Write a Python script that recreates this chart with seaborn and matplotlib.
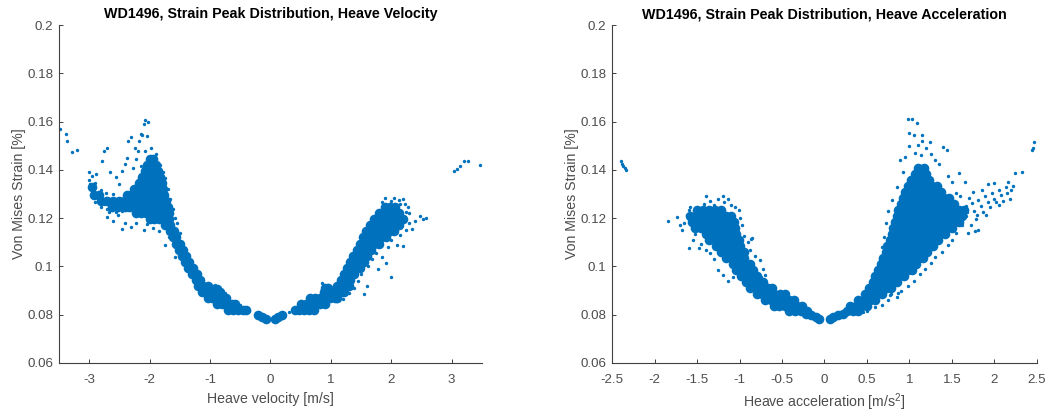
import matplotlib
matplotlib.use("Agg")
import matplotlib.pyplot as plt
import seaborn as sns
import pandas as pd

# ---------------- data ----------------
strain_ticks = [0.06, 0.08, 0.10, 0.12, 0.14, 0.16, 0.18, 0.20]
strain_tick_labels = ["0.06", "0.08", "0.1", "0.12", "0.14", "0.16", "0.18", "0.2"]
vel_ticks = [-3, -2, -1, 0, 1, 2, 3]
vel_tick_labels = ["-3", "-2", "-1", "0", "1", "2", "3"]
acc_ticks = [-2.5, -2, -1.5, -1, -0.5, 0, 0.5, 1, 1.5, 2, 2.5]
acc_tick_labels = ["-2.5", "-2", "-1.5", "-1", "-0.5", "0", "0.5", "1", "1.5", "2", "2.5"]

# Heave velocity panel: dense core, rows of (strain, [velocities])
vel_core_rows = [
    (0.1445, [-2.0, -1.94]),
    (0.142, [-2.04, -1.96, -1.9]),
    (0.1395, [-2.08, -2.0, -1.92, -1.86]),
    (0.137, [-2.12, -2.04, -1.96, -1.88, -1.82]),
    (0.1345, [-2.18, -2.1, -2.02, -1.94, -1.86, -1.8]),
    (0.133, [-2.95]),
    (0.132, [-2.26, -2.18, -2.1, -2.02, -1.94, -1.86, -1.78]),
    (0.1295, [-2.92, -2.84, -2.38, -2.3, -2.22, -2.14, -2.06, -1.98, -1.9, -1.82, -1.76]),
    (0.127, [-2.8, -2.7, -2.6, -2.5, -2.42, -2.34, -2.26, -2.18, -2.1, -2.02, -1.94, -1.86, -1.78, -1.73]),
    (0.1245, [-2.62, -2.52, -2.4, -2.32, -2.24, -2.16, -2.08, -2.0, -1.92, -1.84, -1.76, -1.7]),
    (0.122, [-2.22, -2.14, -2.06, -1.98, -1.9, -1.82, -1.74, -1.68]),
    (0.1195, [-2.0, -1.92, -1.84, -1.76, -1.68]),
    (0.117, [-1.74, -1.66]),
    (0.1145, [-1.66, -1.6]),
    (0.112, [-1.62, -1.56]),
    (0.1095, [-1.57, -1.5]),
    (0.107, [-1.52, -1.44]),
    (0.1045, [-1.47, -1.39]),
    (0.102, [-1.42, -1.34]),
    (0.0995, [-1.36, -1.28]),
    (0.097, [-1.3, -1.22]),
    (0.0945, [-1.24, -1.16]),
    (0.092, [-1.2, -1.12, -1.04]),
    (0.0905, [-0.95, -0.88]),
    (0.0895, [-1.14, -1.06, -0.98, -0.9, -0.84]),
    (0.087, [-1.04, -0.96, -0.88, -0.8, -0.74]),
    (0.0845, [-0.88, -0.8, -0.72, -0.64, -0.58]),
    (0.082, [-0.7, -0.62, -0.54, -0.46, -0.4]),
    (0.0797, [-0.2, 0.19]),
    (0.0789, [-0.14, 0.13]),
    (0.0782, [-0.08, 0.07]),
    (0.082, [0.4, 0.48, 0.56, 0.64, 0.72]),
    (0.0845, [0.5, 0.58, 0.66, 0.74, 0.82, 0.9]),
    (0.087, [0.66, 0.74, 0.82, 0.9, 0.98, 1.06, 1.1]),
    (0.0895, [0.88, 0.94, 1.02, 1.1, 1.18, 1.22]),
    (0.091, [0.9, 0.95]),
    (0.092, [1.1, 1.18, 1.26, 1.3]),
    (0.0945, [1.16, 1.24, 1.32]),
    (0.097, [1.22, 1.3, 1.38]),
    (0.0995, [1.27, 1.35, 1.43, 1.49]),
    (0.102, [1.32, 1.4, 1.48, 1.55]),
    (0.1045, [1.37, 1.45, 1.53, 1.6]),
    (0.107, [1.43, 1.51, 1.59, 1.66]),
    (0.1095, [1.48, 1.56, 1.64, 1.72, 1.8]),
    (0.112, [1.53, 1.61, 1.69, 1.77, 1.85, 1.92]),
    (0.1145, [1.58, 1.66, 1.74, 1.82, 1.9, 1.98, 2.05]),
    (0.117, [1.64, 1.72, 1.8, 1.88, 1.96, 2.04, 2.12]),
    (0.1195, [1.72, 1.8, 1.88, 1.96, 2.04, 2.12, 2.2]),
    (0.122, [1.8, 1.88, 1.96, 2.04, 2.12]),
    (0.1245, [1.9, 1.98, 2.06]),
]

# Heave velocity panel: scattered single peaks
vel_x = [-3.49, -3.39, -3.37, -3.28, -3.2,
         -3.0, -3.0, -2.98, -2.95, -2.93, -2.9, -2.88, -2.85, -2.8, -2.78, -2.75, -2.72, -2.7,
         -2.65, -2.62, -2.6, -2.55, -2.52, -2.5, -2.45,
         -2.88, -2.78, -2.75, -2.7, -2.65, -2.55, -2.5, -2.45, -2.4, -2.38, -2.35, -2.3, -2.25,
         -2.2, -2.18, -2.15, -2.1, -2.07, -2.03, -2.12, -2.05, -2.28, -2.22, -2.15, -2.08, -1.97,
         -1.9, -1.82, -1.78, -1.75, -1.7, -1.66, -1.62, -1.58, -1.55, -1.5,
         -2.7, -2.6, -2.45, -2.4, -2.3, -2.22, -2.1, -2.05, -1.95, -1.85, -1.75, -1.68, -1.58,
         -1.45, -1.3, -1.38,
         -1.18, -1.05, -0.75, -0.7, -0.5, -0.35, -0.92, -0.85,
         -2.96, -2.9, -2.84, -2.8, -2.72, -2.66, -2.58, -2.56, -2.42, -2.35, -2.62, -2.68,
         0.3, 0.85, 0.95, 1.0, 1.05, 1.1, 1.2, 1.3, 1.38, 1.45, 1.5, 1.55, 1.6, 1.62, 1.68, 1.75,
         1.78, 1.85, 1.92, 1.95, 2.0, 2.0, 2.1, 2.15, 2.2, 2.25, 2.3, 2.35, 2.4, 2.48, 2.52, 2.58,
         2.3, 2.28, 2.22, 2.2, 2.15, 2.05, 2.0, 1.98, 1.92, 1.85, 1.8, 1.75, 1.7, 1.5, 1.45, 1.4,
         1.35, 1.32, 1.25, 1.15, 1.4, 1.9, 2.12, 2.25,
         3.03, 3.09, 3.14, 3.21, 3.27, 3.46]
vel_strain = [0.1571, 0.1548, 0.152, 0.1474, 0.1483,
              0.139, 0.136, 0.134, 0.1375, 0.132, 0.1345, 0.130, 0.128, 0.1315, 0.127, 0.126, 0.1285, 0.124,
              0.127, 0.1235, 0.13, 0.125, 0.1215, 0.128, 0.123,
              0.1385, 0.1435, 0.148, 0.149, 0.139, 0.137, 0.134, 0.1395, 0.1425, 0.145, 0.152, 0.1535, 0.149,
              0.148, 0.152, 0.155, 0.159, 0.1605, 0.16, 0.1545, 0.154, 0.141, 0.1445, 0.1415, 0.148, 0.149,
              0.1465, 0.142, 0.139, 0.1365, 0.132, 0.128, 0.124, 0.12, 0.118, 0.114,
              0.1205, 0.119, 0.1155, 0.118, 0.1165, 0.118, 0.115, 0.1175, 0.116, 0.1145, 0.109, 0.112, 0.104,
              0.1015, 0.096, 0.099,
              0.0915, 0.0875, 0.089, 0.0875, 0.084, 0.0815, 0.0925, 0.0915,
              0.1305, 0.1265, 0.1295, 0.1245, 0.1305, 0.125, 0.1265, 0.1225, 0.1255, 0.1235, 0.128, 0.1225,
              0.081, 0.093, 0.0925, 0.091, 0.0875, 0.0855, 0.0865, 0.089, 0.091, 0.094, 0.097, 0.0885, 0.092, 0.1, 0.103, 0.1055,
              0.099, 0.104, 0.1015, 0.108, 0.0955, 0.111, 0.109, 0.113, 0.1085, 0.115, 0.118, 0.1155, 0.119, 0.121, 0.1195, 0.12,
              0.122, 0.1245, 0.126, 0.128, 0.126, 0.1285, 0.127, 0.1255, 0.1245, 0.1265, 0.123, 0.1205, 0.118, 0.109, 0.107, 0.104,
              0.1, 0.0975, 0.0945, 0.09, 0.096, 0.1285, 0.1275, 0.1225,
              0.1396, 0.1405, 0.1417, 0.1437, 0.1437, 0.1421]

# Heave acceleration panel: dense core, rows of (strain, [accelerations])
acc_core_rows = [
    (0.1235, [-1.5, -1.43, -1.36, -1.29, -1.22]),
    (0.121, [-1.58, -1.51, -1.44, -1.37, -1.3, -1.23, -1.16, -1.1]),
    (0.1185, [-1.56, -1.49, -1.42, -1.35, -1.28, -1.21, -1.14, -1.07]),
    (0.116, [-1.52, -1.45, -1.38, -1.31, -1.24, -1.17, -1.1, -1.05]),
    (0.1135, [-1.4, -1.33, -1.26, -1.19, -1.12, -1.04]),
    (0.111, [-1.36, -1.29, -1.22, -1.15, -1.08, -1.01]),
    (0.1085, [-1.28, -1.21, -1.14, -1.07, -0.99]),
    (0.106, [-1.22, -1.15, -1.08, -1.01, -0.95]),
    (0.1035, [-1.16, -1.09, -1.02, -0.95]),
    (0.101, [-1.08, -1.01, -0.94, -0.88]),
    (0.0985, [-1.04, -0.97, -0.9, -0.84]),
    (0.096, [-0.98, -0.91, -0.84, -0.79]),
    (0.0935, [-0.92, -0.85, -0.78, -0.72]),
    (0.091, [-0.88, -0.81, -0.74, -0.67, -0.62]),
    (0.0885, [-0.8, -0.73, -0.66, -0.59, -0.52, -0.47]),
    (0.086, [-0.7, -0.63, -0.56, -0.49, -0.42, -0.36]),
    (0.0835, [-0.6, -0.53, -0.46, -0.39, -0.32, -0.27]),
    (0.0815, [-0.42, -0.35, -0.28, -0.21]),
    (0.0802, [-0.22, 0.22]),
    (0.0797, [-0.16, 0.16]),
    (0.079, [-0.1, 0.1]),
    (0.0783, [-0.06, 0.06]),
    (0.0815, [0.26, 0.33, 0.4]),
    (0.0835, [0.3, 0.37, 0.44, 0.5]),
    (0.086, [0.4, 0.47, 0.54, 0.6]),
    (0.0885, [0.48, 0.55, 0.62, 0.68]),
    (0.091, [0.52, 0.59, 0.66, 0.73, 0.78]),
    (0.0935, [0.57, 0.64, 0.71, 0.78, 0.85]),
    (0.096, [0.6, 0.67, 0.74, 0.81, 0.88, 0.94]),
    (0.0985, [0.63, 0.7, 0.77, 0.84, 0.91, 0.98, 1.03]),
    (0.101, [0.66, 0.73, 0.8, 0.87, 0.94, 1.01, 1.08]),
    (0.1035, [0.69, 0.76, 0.83, 0.9, 0.97, 1.04, 1.11, 1.16]),
    (0.106, [0.72, 0.79, 0.86, 0.93, 1.0, 1.07, 1.14, 1.21]),
    (0.1085, [0.74, 0.81, 0.88, 0.95, 1.02, 1.09, 1.16, 1.23, 1.28]),
    (0.111, [0.77, 0.84, 0.91, 0.98, 1.05, 1.12, 1.19, 1.26, 1.33]),
    (0.1135, [0.79, 0.86, 0.93, 1.0, 1.07, 1.14, 1.21, 1.28, 1.35, 1.42]),
    (0.116, [0.81, 0.88, 0.95, 1.02, 1.09, 1.16, 1.23, 1.3, 1.37, 1.44, 1.5]),
    (0.1185, [0.83, 0.9, 0.97, 1.04, 1.11, 1.18, 1.25, 1.32, 1.39, 1.46, 1.53, 1.58]),
    (0.121, [0.85, 0.92, 0.99, 1.06, 1.13, 1.2, 1.27, 1.34, 1.41, 1.48, 1.55, 1.62]),
    (0.1235, [0.87, 0.94, 1.01, 1.08, 1.15, 1.22, 1.29, 1.36, 1.43, 1.5, 1.57, 1.64]),
    (0.126, [0.9, 0.97, 1.04, 1.11, 1.18, 1.25, 1.32, 1.39, 1.46, 1.52]),
    (0.1285, [0.92, 0.99, 1.06, 1.13, 1.2, 1.27, 1.34, 1.41, 1.47]),
    (0.131, [0.95, 1.02, 1.09, 1.16, 1.23, 1.3, 1.37]),
    (0.1335, [0.98, 1.05, 1.12, 1.19, 1.26, 1.32]),
    (0.136, [1.02, 1.09, 1.16, 1.23]),
    (0.1385, [1.06, 1.13, 1.2]),
    (0.141, [1.1, 1.17]),
]

# Heave acceleration panel: scattered single peaks
acc_x = [-2.40, -2.38, -2.35, -2.33, -2.37,
         -1.84, -1.74, -1.7, -1.68, -1.65, -1.62, -1.6, -1.58, -1.6, -1.55, -1.52, -1.48, -1.45,
         -1.42, -1.4, -1.35, -1.3, -1.25, -1.2, -1.18, -1.13, -1.1, -1.05, -1.01, -1.0, -0.97, -0.95,
         -0.9, -0.87, -0.85, -0.88, -0.82, -0.76, -0.72, -0.7, -0.75, -1.25, -1.2, -1.13, -1.08, -0.97,
         -1.3, -1.35, -1.4, -1.5, -1.56,
         -0.58, -0.5, -0.4, -0.25, -0.55, -0.65,
         0.988, 1.03, 1.086, 0.99, 1.05, 1.145, 1.24, 1.4, 1.44, 0.89, 1.58, 1.65, 1.0, 1.1, 1.15,
         1.2, 1.25, 1.3, 1.35, 0.92, 0.95, 1.06, 1.14, 1.45, 1.5, 1.55, 1.6, 0.85, 0.8, 0.75, 0.72,
         0.7, 0.68, 0.65, 0.62, 1.6, 1.66, 1.62, 1.55, 1.5, 1.45, 1.38, 1.3, 1.25, 1.18, 1.12, 1.05,
         0.98, 0.9, 0.85, 0.78, 0.75, 0.68, 0.6, 0.5, 0.45,
         1.66, 1.7, 1.73, 1.76, 1.78, 1.81, 1.84, 1.86, 1.89, 1.92, 1.95, 1.97, 2.0, 2.02, 2.05, 2.08,
         2.1, 2.13, 2.15, 2.16, 2.18, 2.2, 2.24, 2.22, 2.32, 2.44, 2.45, 2.47, 1.81, 1.77, 1.69, 1.72,
         1.85, 1.92, 2.0, 1.9, 2.05, 1.8, 1.75, 1.68,
         0.87, 0.77, 0.6, 0.7]
acc_strain = [0.1438, 0.1425, 0.141, 0.1398, 0.1415,
              0.119, 0.1205, 0.117, 0.115, 0.118, 0.1215, 0.1235, 0.1245, 0.1076, 0.111, 0.1135, 0.1076, 0.1095,
              0.126, 0.129, 0.127, 0.1255, 0.128, 0.129, 0.1265, 0.1279, 0.1255, 0.1245, 0.1234, 0.12, 0.117, 0.1125,
              0.11, 0.1115, 0.1117, 0.107, 0.1045, 0.1028, 0.099, 0.0966, 0.0955, 0.0986, 0.0965, 0.0938, 0.0955, 0.0979,
              0.103, 0.1055, 0.107, 0.1165, 0.116,
              0.0895, 0.087, 0.0845, 0.082, 0.084, 0.0865,
              0.161, 0.1612, 0.1593, 0.1552, 0.1545, 0.1545, 0.1517, 0.1497, 0.1483, 0.1441, 0.1386, 0.1352, 0.15, 0.1505, 0.152,
              0.149, 0.1465, 0.144, 0.1425, 0.139, 0.1455, 0.147, 0.146, 0.1375, 0.135, 0.1305, 0.129, 0.133, 0.1275, 0.123, 0.118,
              0.112, 0.108, 0.103, 0.099, 0.1245, 0.121, 0.117, 0.114, 0.111, 0.109, 0.106, 0.104, 0.1015, 0.099, 0.097, 0.094,
              0.092, 0.09, 0.0875, 0.0885, 0.086, 0.084, 0.083, 0.0815, 0.081,
              0.125, 0.1285, 0.1262, 0.123, 0.1195, 0.1276, 0.125, 0.1225, 0.129, 0.1265, 0.1245, 0.1303, 0.128, 0.1265, 0.1317, 0.1295,
              0.127, 0.1331, 0.1305, 0.1352, 0.128, 0.1317, 0.1386, 0.1335, 0.1393, 0.1483, 0.149, 0.1517, 0.1152, 0.1145, 0.1138, 0.117,
              0.1315, 0.134, 0.1345, 0.1215, 0.1255, 0.1215, 0.131, 0.1225,
              0.089, 0.0883, 0.0865, 0.0905]


def rows_to_frame(rows, xname):
    xs, ys = [], []
    for yv, xvals in rows:
        for xv in xvals:
            xs.append(xv)
            ys.append(yv)
    return pd.DataFrame({xname: xs, "strain": ys})


vel_core = rows_to_frame(vel_core_rows, "velocity")
acc_core = rows_to_frame(acc_core_rows, "acceleration")
vel_sparse = pd.DataFrame({"velocity": vel_x, "strain": vel_strain})
acc_sparse = pd.DataFrame({"acceleration": acc_x, "strain": acc_strain})

# ---------------- style ----------------
sns.set_theme(style="white")
plt.rcParams["font.family"] = ["Liberation Sans", "DejaVu Sans"]
plt.rcParams["mathtext.default"] = "regular"

BLUE = "#0072BD"
TXT = "#4d4d4d"
AX = "#404040"

fig = plt.figure(figsize=(10.53, 4.12), dpi=100)
ax1 = fig.add_axes([0.056, 0.119, 0.4017, 0.820])
ax2 = fig.add_axes([0.5812, 0.119, 0.4036, 0.820])


def draw(ax, core, sparse, xcol, xlim, xt, xtl, title, xlabel):
    sns.scatterplot(data=core, x=xcol, y="strain", ax=ax, color=BLUE, s=48,
                    linewidth=0, alpha=1, legend=False)
    sns.scatterplot(data=sparse, x=xcol, y="strain", ax=ax, color=BLUE, s=6,
                    linewidth=0, alpha=1, legend=False)
    ax.set_xlim(*xlim)
    ax.set_ylim(0.06, 0.2)
    ax.set_xticks(xt)
    ax.set_xticklabels(xtl)
    ax.set_yticks(strain_ticks)
    ax.set_yticklabels(strain_tick_labels)
    ax.tick_params(direction="in", length=3, width=0.7, colors=AX, labelcolor=TXT,
                   labelsize=9.6, pad=4, bottom=True, left=True)
    ax.tick_params(axis="x", pad=8)
    for side in ("top", "right"):
        ax.spines[side].set_visible(False)
    for side in ("left", "bottom"):
        ax.spines[side].set_color(AX)
        ax.spines[side].set_linewidth(0.8)
    ax.set_title(title, fontsize=10.3, fontweight="bold", color="black", pad=5)
    ax.set_xlabel(xlabel, fontsize=10.2, color=TXT, labelpad=4)
    ax.set_ylabel("Von Mises Strain [%]", fontsize=10.2, color=TXT, labelpad=1)
    ax.grid(False)


draw(ax1, vel_core, vel_sparse, "velocity", (-3.5, 3.5), vel_ticks, vel_tick_labels,
     "WD1496, Strain Peak Distribution, Heave Velocity", "Heave velocity [m/s]")
draw(ax2, acc_core, acc_sparse, "acceleration", (-2.5, 2.5), acc_ticks, acc_tick_labels,
     "WD1496, Strain Peak Distribution, Heave Acceleration", "Heave acceleration [m/s$^2$]")

fig.savefig("out.png", dpi=100)
